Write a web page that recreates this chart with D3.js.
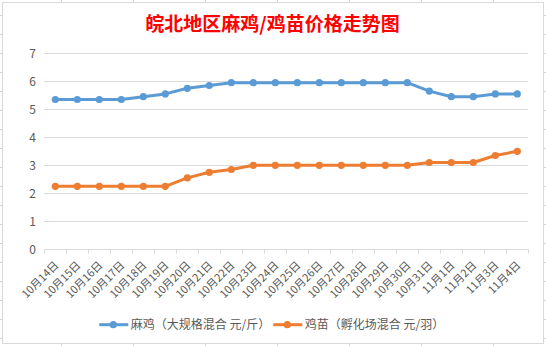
<!DOCTYPE html>
<html><head><meta charset="utf-8">
<script src="https://cdn.jsdelivr.net/npm/d3@7"></script>
<style>
html,body{margin:0;padding:0;background:#fff;}
svg{display:block;font-family:"Noto Sans CJK SC","Noto Sans",sans-serif;}
</style></head>
<body>
<svg id="c" width="546" height="346"></svg>
<script>
const title = "皖北地区麻鸡/鸡苗价格走势图";
const categories = ["10月14日","10月15日","10月16日","10月17日","10月18日","10月19日","10月20日","10月21日","10月22日","10月23日","10月24日","10月25日","10月26日","10月27日","10月28日","10月29日","10月30日","10月31日","11月1日","11月2日","11月3日","11月4日"];
const majiValues = [5.35,5.35,5.35,5.35,5.45,5.55,5.75,5.85,5.95,5.95,5.95,5.95,5.95,5.95,5.95,5.95,5.95,5.65,5.45,5.45,5.55,5.55];
const jimiaoValues = [2.25,2.25,2.25,2.25,2.25,2.25,2.55,2.75,2.85,3.0,3.0,3.0,3.0,3.0,3.0,3.0,3.0,3.1,3.1,3.1,3.35,3.5];
const yTicks = [0,1,2,3,4,5,6,7];
const seriesNames = ["麻鸡（大规格混合 元/斤）","鸡苗（孵化场混合 元/羽）"];
const colors = ["#5B9BD5","#ED7D31"];

const svg = d3.select("#c");
const W = 546, H = 346;

// spreadsheet grid behind the chart
const sheet = svg.append("g").attr("stroke","#D4D4D4").attr("stroke-width",1);
d3.range(61, W, 72).forEach(v => sheet.append("line").attr("x1",v+0.5).attr("x2",v+0.5).attr("y1",0).attr("y2",H));
d3.range(15, H, 19).forEach(v => sheet.append("line").attr("x1",0).attr("x2",W).attr("y1",v+0.5).attr("y2",v+0.5));

// chart area
svg.append("rect").attr("x",2.5).attr("y",2.5).attr("width",541).attr("height",341)
  .attr("fill","#fff").attr("stroke","#D9D9D9").attr("stroke-width",1);

const plotL = 44.3, plotR = 528.3, plotT = 53.3, plotB = 249.3;
const x = d3.scaleBand().domain(categories).range([plotL, plotR]);
const y = d3.scaleLinear().domain([0,7]).range([plotB, plotT]);

// title
svg.append("text").attr("x",272.5).attr("y",31).attr("text-anchor","middle")
  .attr("font-size",19).attr("font-weight","bold").attr("fill","#FF0000").text(title);

// gridlines
svg.append("g").selectAll("line").data(yTicks.filter(d=>d>0)).join("line")
  .attr("x1",plotL).attr("x2",plotR)
  .attr("y1",d=>Math.round(y(d))+0.5).attr("y2",d=>Math.round(y(d))+0.5)
  .attr("stroke","#D9D9D9").attr("stroke-width",1);

// y labels
svg.append("g").selectAll("text").data(yTicks).join("text")
  .attr("x",36).attr("y",d=>y(d)+4.5).attr("text-anchor","end")
  .attr("font-size",12).attr("fill","#595959").text(d=>d);

// x axis
const xAxis = d3.axisBottom(x).tickSize(0).tickFormat("");
const gx = svg.append("g").attr("transform",`translate(0,${Math.round(plotB)+0.5})`).call(xAxis);
gx.select(".domain").attr("stroke","#D9D9D9").attr("stroke-width",1).attr("d",`M${plotL},0H${plotR}`);
const bounds = categories.map(c=>x(c)).concat([plotR]);
gx.selectAll(".bt").data(bounds).join("line").attr("class","bt")
  .attr("x1",d=>Math.round(d)+0.5).attr("x2",d=>Math.round(d)+0.5).attr("y1",0).attr("y2",4)
  .attr("stroke","#D9D9D9").attr("stroke-width",1);

svg.append("g").selectAll("text").data(categories).join("text")
  .attr("transform",d=>`translate(${x(d)+x.bandwidth()/2+4},266) rotate(-45)`)
  .attr("text-anchor","end").attr("font-size",11).attr("fill","#595959").text(d=>d);

// series
const series = [majiValues, jimiaoValues];
const line = d3.line().x((d,i)=>x(categories[i])+x.bandwidth()/2).y(d=>y(d));
series.forEach((vals, si) => {
  const g = svg.append("g");
  g.append("path").datum(vals).attr("d",line).attr("fill","none")
    .attr("stroke",colors[si]).attr("stroke-width",3).attr("stroke-linejoin","round");
  g.selectAll("circle").data(vals).join("circle")
    .attr("cx",(d,i)=>x(categories[i])+x.bandwidth()/2).attr("cy",d=>y(d))
    .attr("r",3.6).attr("fill",colors[si]);
});

// legend
const legendX = [99.3, 273.3];
const ly = 324.7;
seriesNames.forEach((name, i) => {
  const g = svg.append("g").attr("transform",`translate(${legendX[i]},${ly})`);
  g.append("line").attr("x1",0).attr("x2",29).attr("y1",0).attr("y2",0)
    .attr("stroke",colors[i]).attr("stroke-width",3);
  g.append("circle").attr("cx",14).attr("cy",0).attr("r",3.6).attr("fill",colors[i]);
  g.append("text").attr("x",31.5).attr("y",4.3).attr("font-size",12).attr("fill","#595959").text(name);
});
</script>
</body></html>
